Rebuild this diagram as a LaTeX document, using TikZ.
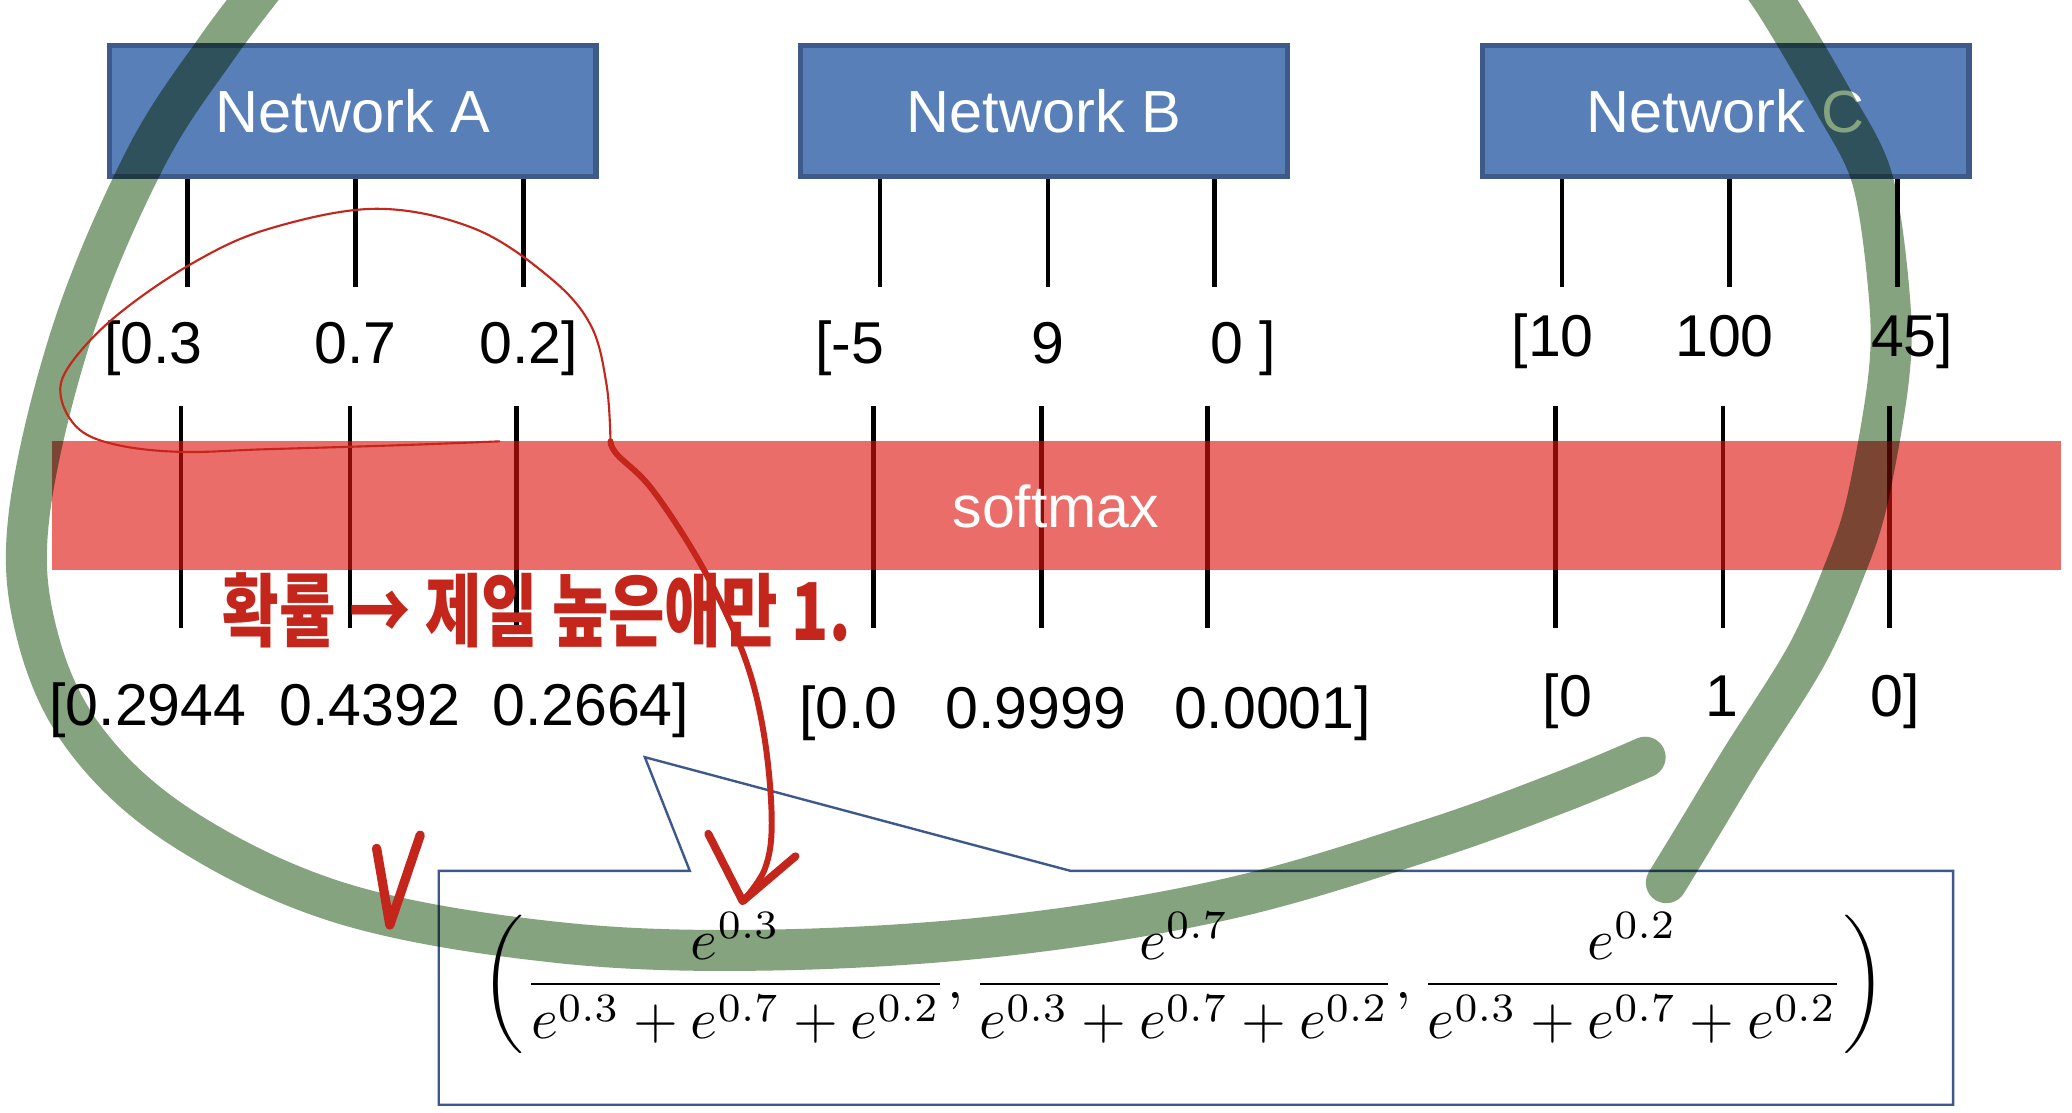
\documentclass[tikz,border=0pt]{standalone}
\usepackage[no-math]{fontspec}
\usepackage{graphicx}
\newfontfamily\arial{Liberation Sans}
\newfontfamily\krfont{Noto Sans CJK KR}
\definecolor{netfill}{RGB}{88,127,184}
\definecolor{netdraw}{RGB}{62,90,138}
\definecolor{bandred}{RGB}{224,20,13}
\definecolor{penred}{RGB}{196,38,28}
\definecolor{hlgreen}{RGB}{134,163,127}
\definecolor{calloutblue}{RGB}{60,88,140}
\tikzset{
  netbox/.style={draw=netdraw, line width=0.04cm, fill=netfill, text=white,
    font=\arial\fontsize{12.8}{15}\selectfont, minimum width=3.68cm, minimum height=0.99cm, inner sep=0},
  val/.style={font=\arial\fontsize{12.7}{15}\selectfont, anchor=base, inner sep=0},
  tick/.style={line width=0.035cm, black},
  greenstroke/.style={hlgreen, line width=0.31cm, line cap=round, line join=round},
  penthin/.style={penred, line width=0.016cm, line cap=round, line join=round},
  penthick/.style={penred, line width=0.05cm, line cap=round, line join=round},
}
\begin{document}
\begin{tikzpicture}[x=0.01cm, y=-0.01cm]
\useasboundingbox (0,0) rectangle (1568,842);
\clip (0,0) rectangle (1568,842);
\fill[white] (0,0) rectangle (1568,842);

% tick lines (top)
\foreach \x in {142,269,396,666,793,919,1182,1309,1436}
  \draw[tick] (\x,134) -- (\x,217);
% tick lines (bottom)
\foreach \x in {137,265,391,661,788,914,1177,1304,1430}
  \draw[tick] (\x,307) -- (\x,475);

% softmax band
\fill[bandred, fill opacity=0.62] (39,334) rectangle (1560,431);
\node[val, text=white] (softmax) at (799,399) {softmax};

% networks
\node[netbox] (netA) at (267,84) {Network A};
\node[netbox] (netB) at (790,84) {Network B};
\node[netbox] (netC) at (1306,84) {Network C};

% input values
\node[val] (a1) at (116,275) {[0.3};
\node[val] (a2) at (269,275) {0.7};
\node[val] (a3) at (400,275) {0.2]};
\node[val] (b1) at (643,275) {[-5};
\node[val] (b2) at (793,275) {9};
\node[val] (b3) at (941,275) {0 ]};
\node[val] (c1) at (1175,270) {[10};
\node[val] (c2) at (1305,270) {100};
\node[val] (c3) at (1447,270) {45]};

% output values
\node[val] (oa1) at (112,549) {[0.2944};
\node[val] (oa2) at (280,549) {0.4392};
\node[val] (oa3) at (447,549) {0.2664]};
\node[val] (ob1) at (642,551) {[0.0};
\node[val] (ob2) at (784,551) {0.9999};
\node[val] (ob3) at (963,551) {0.0001]};
\node[val] (oc1) at (1186,542) {[0};
\node[val] (oc2) at (1303,542) {1};
\node[val] (oc3) at (1434,542) {0]};

% callout
\draw[calloutblue, line width=0.018cm, fill=white]
  (332,659) -- (522,659) -- (488,573) -- (810,659) -- (1478,659) -- (1478,836) -- (332,836) -- cycle;
\node[inner sep=0] (formula) at (896,744) {\resizebox{10.62cm}{!}{$\displaystyle\left(\frac{e^{0.3}}{e^{0.3}+e^{0.7}+e^{0.2}},\frac{e^{0.7}}{e^{0.3}+e^{0.7}+e^{0.2}},\frac{e^{0.2}}{e^{0.3}+e^{0.7}+e^{0.2}}\right)$}};

% green highlighter strokes
\begin{scope}[blend mode=multiply]
\draw[greenstroke] plot[smooth, tension=0.6] coordinates {(215,-30) (165,35) (110,120) (55,250) (22,390) (28,480) (65,560) (140,628) (260,684) (420,713) (580,719) (760,708) (930,680) (1080,636) (1180,600) (1245,573)};
\draw[greenstroke] plot[smooth, tension=0.55] coordinates {(1318,-30) (1342,0) (1387,76) (1417,136) (1430,227) (1429,288) (1413,379) (1396,431) (1367,496) (1318,574) (1286,627) (1261,668)};
\end{scope}

% red pen annotations
\draw[penthin] plot[smooth, tension=0.6] coordinates {(378,334) (300,337) (200,340) (138,342) (90,337) (60,325) (46,300) (53,276) (88,239) (146,199) (204,173) (285,158) (359,173) (416,210) (447,246) (459,291) (462,334)};
\draw[penthick, line width=0.045cm] plot[smooth, tension=0.6] coordinates {(462,334) (467,344) (494,371) (532,430) (563,496) (578,555) (584,620) (579,657) (562,682)};
\draw[penthick, line width=0.06cm] (536,631) -- (562,682) -- (602,648);
\draw[penthick, line width=0.07cm] (285,642) -- (295,700) -- (318,632);
\node[penred, anchor=west, inner sep=0, font=\krfont\bfseries\fontsize{13.2}{15}\selectfont] (memo) at (168,462) {\scalebox{1}[1.3]{확률 → 제일 높은애만 1.}};
\end{tikzpicture}
\end{document}
